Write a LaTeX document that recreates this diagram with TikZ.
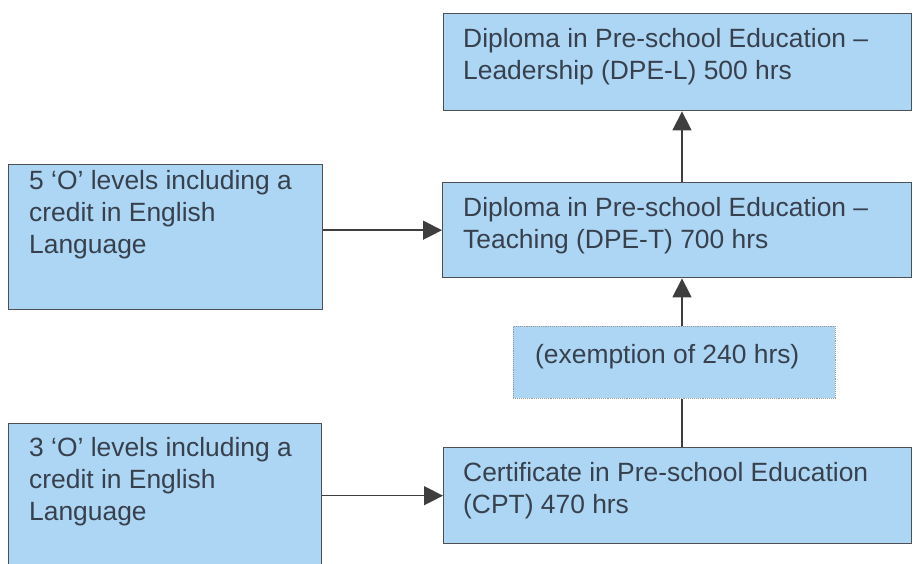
\documentclass[tikz,border=0pt]{standalone}
\usepackage{fontspec}
\setmainfont{Liberation Sans}
\usetikzlibrary{arrows.meta,calc}
\definecolor{boxfill}{RGB}{172,214,244}
\definecolor{boxline}{RGB}{78,80,84}
\definecolor{txtcol}{RGB}{55,64,76}
\definecolor{arrcol}{RGB}{62,62,62}
\tikzset{
  box/.style={draw=boxline, line width=1.4pt, fill=boxfill, inner sep=0pt, anchor=north west},
  dotbox/.style={draw=gray!80, line width=0.9pt, densely dotted, fill=boxfill, inner sep=0pt, anchor=north west},
  txt/.style={anchor=base west, inner sep=0pt, text=txtcol, font=\fontsize{26.4}{32}\selectfont},
  conn/.style={draw=arrcol, line width=1.4pt},
  arr/.style={conn, -{Triangle[length=19pt,width=19pt]}}
}
\newcommand{\boxtext}[1]{\parbox[t]{440pt}{\raggedright #1}}
\begin{document}
\begin{tikzpicture}[x=1pt,y=-1pt]
\useasboundingbox (0,0) rectangle (913,564);
\clip (0,0) rectangle (913,564);
% boxes
\node[box, minimum width=468pt, minimum height=97pt] (dpel) at (443,13) {};
\node[box, minimum width=469pt, minimum height=95pt] (dpet) at (442,182) {};
\node[box, minimum width=314pt, minimum height=145pt] (five) at (8,164) {};
\node[dotbox, minimum width=322pt, minimum height=72pt] (exem) at (513,326) {};
\node[box, minimum width=468pt, minimum height=96pt] (cpt) at (443,447) {};
\node[box, minimum width=313pt, minimum height=160pt] (three) at (8,423) {};
% texts
\node[txt] (dpelt) at (463,48) {\boxtext{Diploma in Pre-school Education –\\Leadership (DPE-L) 500 hrs}};
\node[txt] (dpett) at (463,217) {\boxtext{Diploma in Pre-school Education –\\Teaching (DPE-T) 700 hrs}};
\node[txt] (fivet) at (29,190) {\boxtext{5 ‘O’ levels including a\\credit in English\\Language}};
\node[txt] (exemt) at (535,363) {(exemption of 240 hrs)};
\node[txt] (cptt) at (463,481) {\boxtext{Certificate in Pre-school Education\\(CPT) 470 hrs}};
\node[txt] (threet) at (29,456) {\boxtext{3 ‘O’ levels including a\\credit in English\\Language}};
% connectors
\coordinate (vx) at (682,0);
\draw[arr] (five.east |- dpet.west) -- (dpet.west);
\draw[arr] (three.east |- cpt.west) -- (cpt.west);
\draw[conn] (cpt.north -| vx) -- (exem.south -| vx);
\draw[arr] (exem.north -| vx) -- (dpet.south -| vx);
\draw[arr] (dpet.north -| vx) -- (dpel.south -| vx);
\end{tikzpicture}
\end{document}
